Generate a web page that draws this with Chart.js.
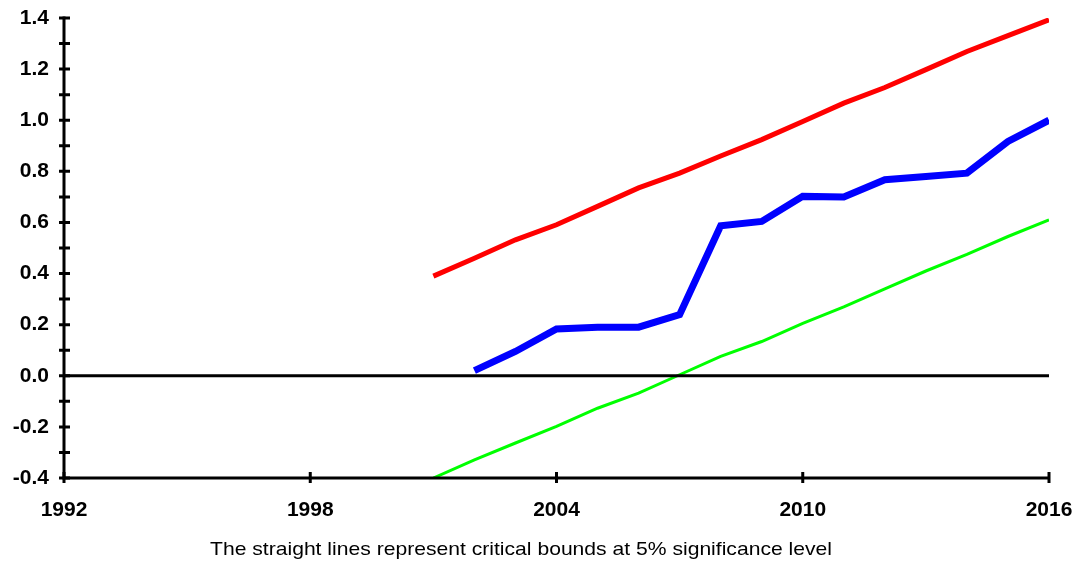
<!DOCTYPE html>
<html>
<head>
<meta charset="utf-8">
<script src="https://cdn.jsdelivr.net/npm/chart.js@4/dist/chart.umd.min.js"></script>
<style>
  html, body { margin: 0; padding: 0; background: #fff; }
  #wrap { width: 1079px; height: 566px; }
</style>
</head>
<body>
<div id="wrap"><canvas id="c" width="1079" height="566"></canvas></div>
<script>
// CUSUM statistic with its 5% critical bounds
const years = [2001, 2002, 2003, 2004, 2005, 2006, 2007, 2008, 2009, 2010, 2011, 2012, 2013, 2014, 2015, 2016];
const cusum = [null, 0.02, 0.095, 0.183, 0.19, 0.19, 0.239, 0.587, 0.604, 0.702, 0.70, 0.767, 0.78, 0.793, 0.917, 1.0];
const upperBound = [0.39, 0.46, 0.532, 0.591, 0.663, 0.735, 0.793, 0.86, 0.924, 0.995, 1.067, 1.128, 1.198, 1.269, 1.331, 1.393];
const lowerBound = [-0.4, -0.329, -0.263, -0.198, -0.127, -0.068, 0.004, 0.076, 0.134, 0.205, 0.27, 0.34, 0.41, 0.475, 0.545, 0.61];
const xTicks = [1992, 1998, 2004, 2010, 2016];
const caption = 'The straight lines represent critical bounds at 5% significance level';

const pts = arr => years.map((y, i) => ({ x: y, y: arr[i] })).filter(p => p.y !== null);

// Axis lines, zero line, tick marks crossing the axes, and the note below
const axesPlugin = {
  id: 'axes',
  afterDatasetsDraw(chart) {
    const { ctx, chartArea: a, scales: { x, y } } = chart;
    ctx.save();
    ctx.strokeStyle = '#000';
    ctx.lineCap = 'butt';
    ctx.lineWidth = 3;
    const y0 = y.getPixelForValue(0);
    ctx.beginPath();
    ctx.moveTo(a.left, y0); ctx.lineTo(a.right, y0);
    ctx.moveTo(a.left, a.bottom); ctx.lineTo(a.right, a.bottom);
    ctx.moveTo(a.left, a.top - 1.5); ctx.lineTo(a.left, a.bottom + 1.5);
    ctx.stroke();
    ctx.beginPath();
    y.ticks.forEach(t => {
      const py = y.getPixelForValue(t.value);
      ctx.moveTo(a.left - 5, py); ctx.lineTo(a.left + 6, py);
    });
    xTicks.forEach(v => {
      const px = x.getPixelForValue(v);
      ctx.moveTo(px, a.bottom - 6); ctx.lineTo(px, a.bottom + 5);
    });
    ctx.stroke();
    ctx.fillStyle = '#000';
    ctx.font = '19px "Liberation Sans", Arial, sans-serif';
    ctx.textAlign = 'center';
    ctx.textBaseline = 'middle';
    const w = ctx.measureText(caption).width;
    ctx.translate(521, 550);
    ctx.scale(622 / w, 1);
    ctx.fillText(caption, 0, 0);
    ctx.restore();
  }
};

const tickFont = { family: '"Liberation Sans", Arial, sans-serif', size: 21, weight: 'bold' };

// Edge labels may hang outside the plot; keep them from shrinking it
const noOverhang = s => { s.paddingTop = 0; s.paddingBottom = 0; s.paddingLeft = 0; s.paddingRight = 0; };

new Chart(document.getElementById('c'), {
  type: 'line',
  data: {
    datasets: [
      { label: 'Upper bound', data: pts(upperBound), borderColor: '#ff0000', borderWidth: 5, pointRadius: 0, tension: 0 },
      { label: 'Lower bound', data: pts(lowerBound), borderColor: '#00ff00', borderWidth: 3, pointRadius: 0, tension: 0 },
      { label: 'CUSUM', data: pts(cusum), borderColor: '#0000ff', borderWidth: 7, pointRadius: 0, tension: 0, borderCapStyle: 'butt' }
    ]
  },
  options: {
    responsive: false,
    animation: false,
    layout: { padding: { top: 18, right: 30, left: 0, bottom: 0 } },
    plugins: { legend: { display: false }, tooltip: { enabled: false } },
    scales: {
      x: {
        type: 'linear',
        min: 1992, max: 2016,
        afterBuildTicks: s => { s.ticks = xTicks.map(v => ({ value: v })); },
        afterFit: s => { s.height = 88; noOverhang(s); },
        grid: { display: false, drawTicks: false },
        border: { display: false },
        ticks: { color: '#000', padding: 20, maxRotation: 0, autoSkip: false, font: tickFont,
                 callback: v => String(v) }
      },
      y: {
        min: -0.4, max: 1.4,
        afterBuildTicks: s => {
          const t = [];
          for (let i = -4; i <= 14; i++) t.push({ value: i / 10 });
          s.ticks = t;
        },
        afterFit: s => { s.width = 64; noOverhang(s); },
        grid: { display: false, drawTicks: false },
        border: { display: false },
        ticks: { color: '#000', padding: 15, autoSkip: false, font: tickFont,
                 callback: v => {
                   const k = Math.round(v * 10);
                   return k % 2 === 0 ? (k / 10).toFixed(1) : '';
                 } }
      }
    }
  },
  plugins: [axesPlugin]
});
</script>
</body>
</html>
